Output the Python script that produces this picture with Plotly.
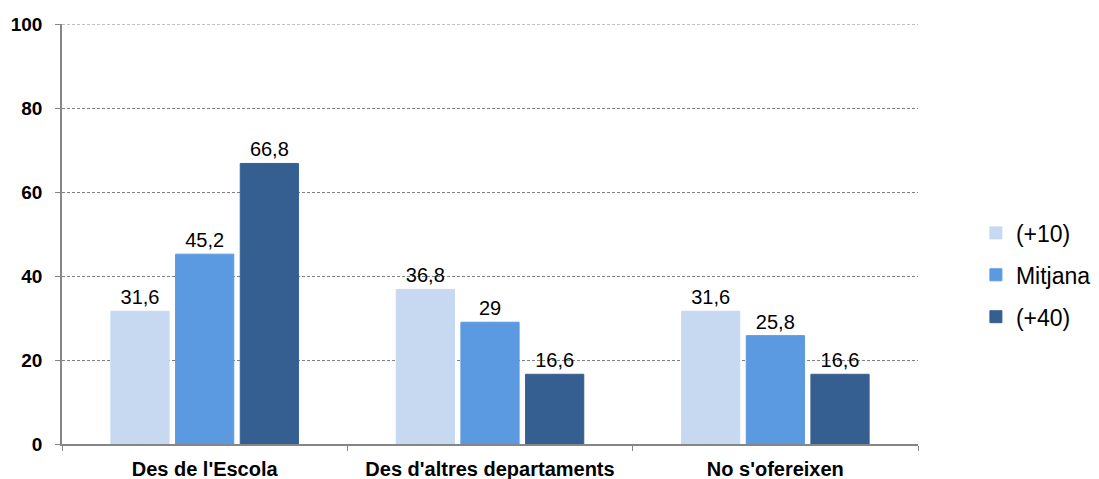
import plotly.graph_objects as go

categories = ["Des de l'Escola", "Des d'altres departaments", "No s'ofereixen"]
series_names = ["(+10)", "Mitjana", "(+40)"]
vals_plus10 = [31.6, 36.8, 31.6]
vals_mitjana = [45.2, 29, 25.8]
vals_plus40 = [66.8, 16.6, 16.6]
colors = ["#C6D9F0", "#5B9AE0", "#365F91"]

fig = go.Figure()
for name, vals, col in zip(series_names, [vals_plus10, vals_mitjana, vals_plus40], colors):
    fig.add_trace(go.Bar(
        x=categories, y=vals, name=name, legendgroup=name,
        marker=dict(color=col, line=dict(color=col, width=1)),
        text=vals, texttemplate="%{y}", textposition="outside",
        textfont=dict(family="Arial", size=20, color="#000000"),
        cliponaxis=False,
    ))

# top gridline at 100 (plotly hides the one on the axis edge)
fig.add_shape(type="line", xref="paper", yref="y", x0=0, x1=1, y0=100, y1=100,
              line=dict(color="#808080", width=1, dash="3px,2px"), layer="below")

fig.update_layout(
    width=1099, height=479,
    margin=dict(l=62, r=181, t=24, b=35),
    plot_bgcolor="white", paper_bgcolor="white",
    separators=",.",
    barmode="group", bargap=0.32, bargroupgap=0.1,
    font=dict(family="Arial", color="#000000"),
    legend=dict(
        xref="container", yref="container",
        x=0.888, y=0.426, xanchor="left", yanchor="middle",
        font=dict(family="Arial", size=23),
        tracegroupgap=9, itemwidth=30,
    ),
    yaxis=dict(
        range=[0, 100], tickvals=[0, 20, 40, 60, 80, 100],
        showline=True, linecolor="#868686", linewidth=1.5,
        ticks="outside", ticklen=5, tickcolor="#868686",
        showgrid=True, gridcolor="#808080", griddash="3px,2px", gridwidth=1,
        zeroline=False, automargin=False, ticklabelstandoff=9,
        tickfont=dict(family="Arial", size=19, color="#000000", weight="bold"),
    ),
    xaxis=dict(
        showline=True, linecolor="#868686", linewidth=1.5,
        ticks="outside", ticklen=5, tickcolor="#868686", tickson="boundaries",
        automargin=False, ticklabelstandoff=6,
        tickfont=dict(family="Arial", size=20, color="#000000", weight="bold"),
    ),
)

fig.write_html("out.html", config={"displayModeBar": False},
               post_script="document.body.style.margin='0';")
